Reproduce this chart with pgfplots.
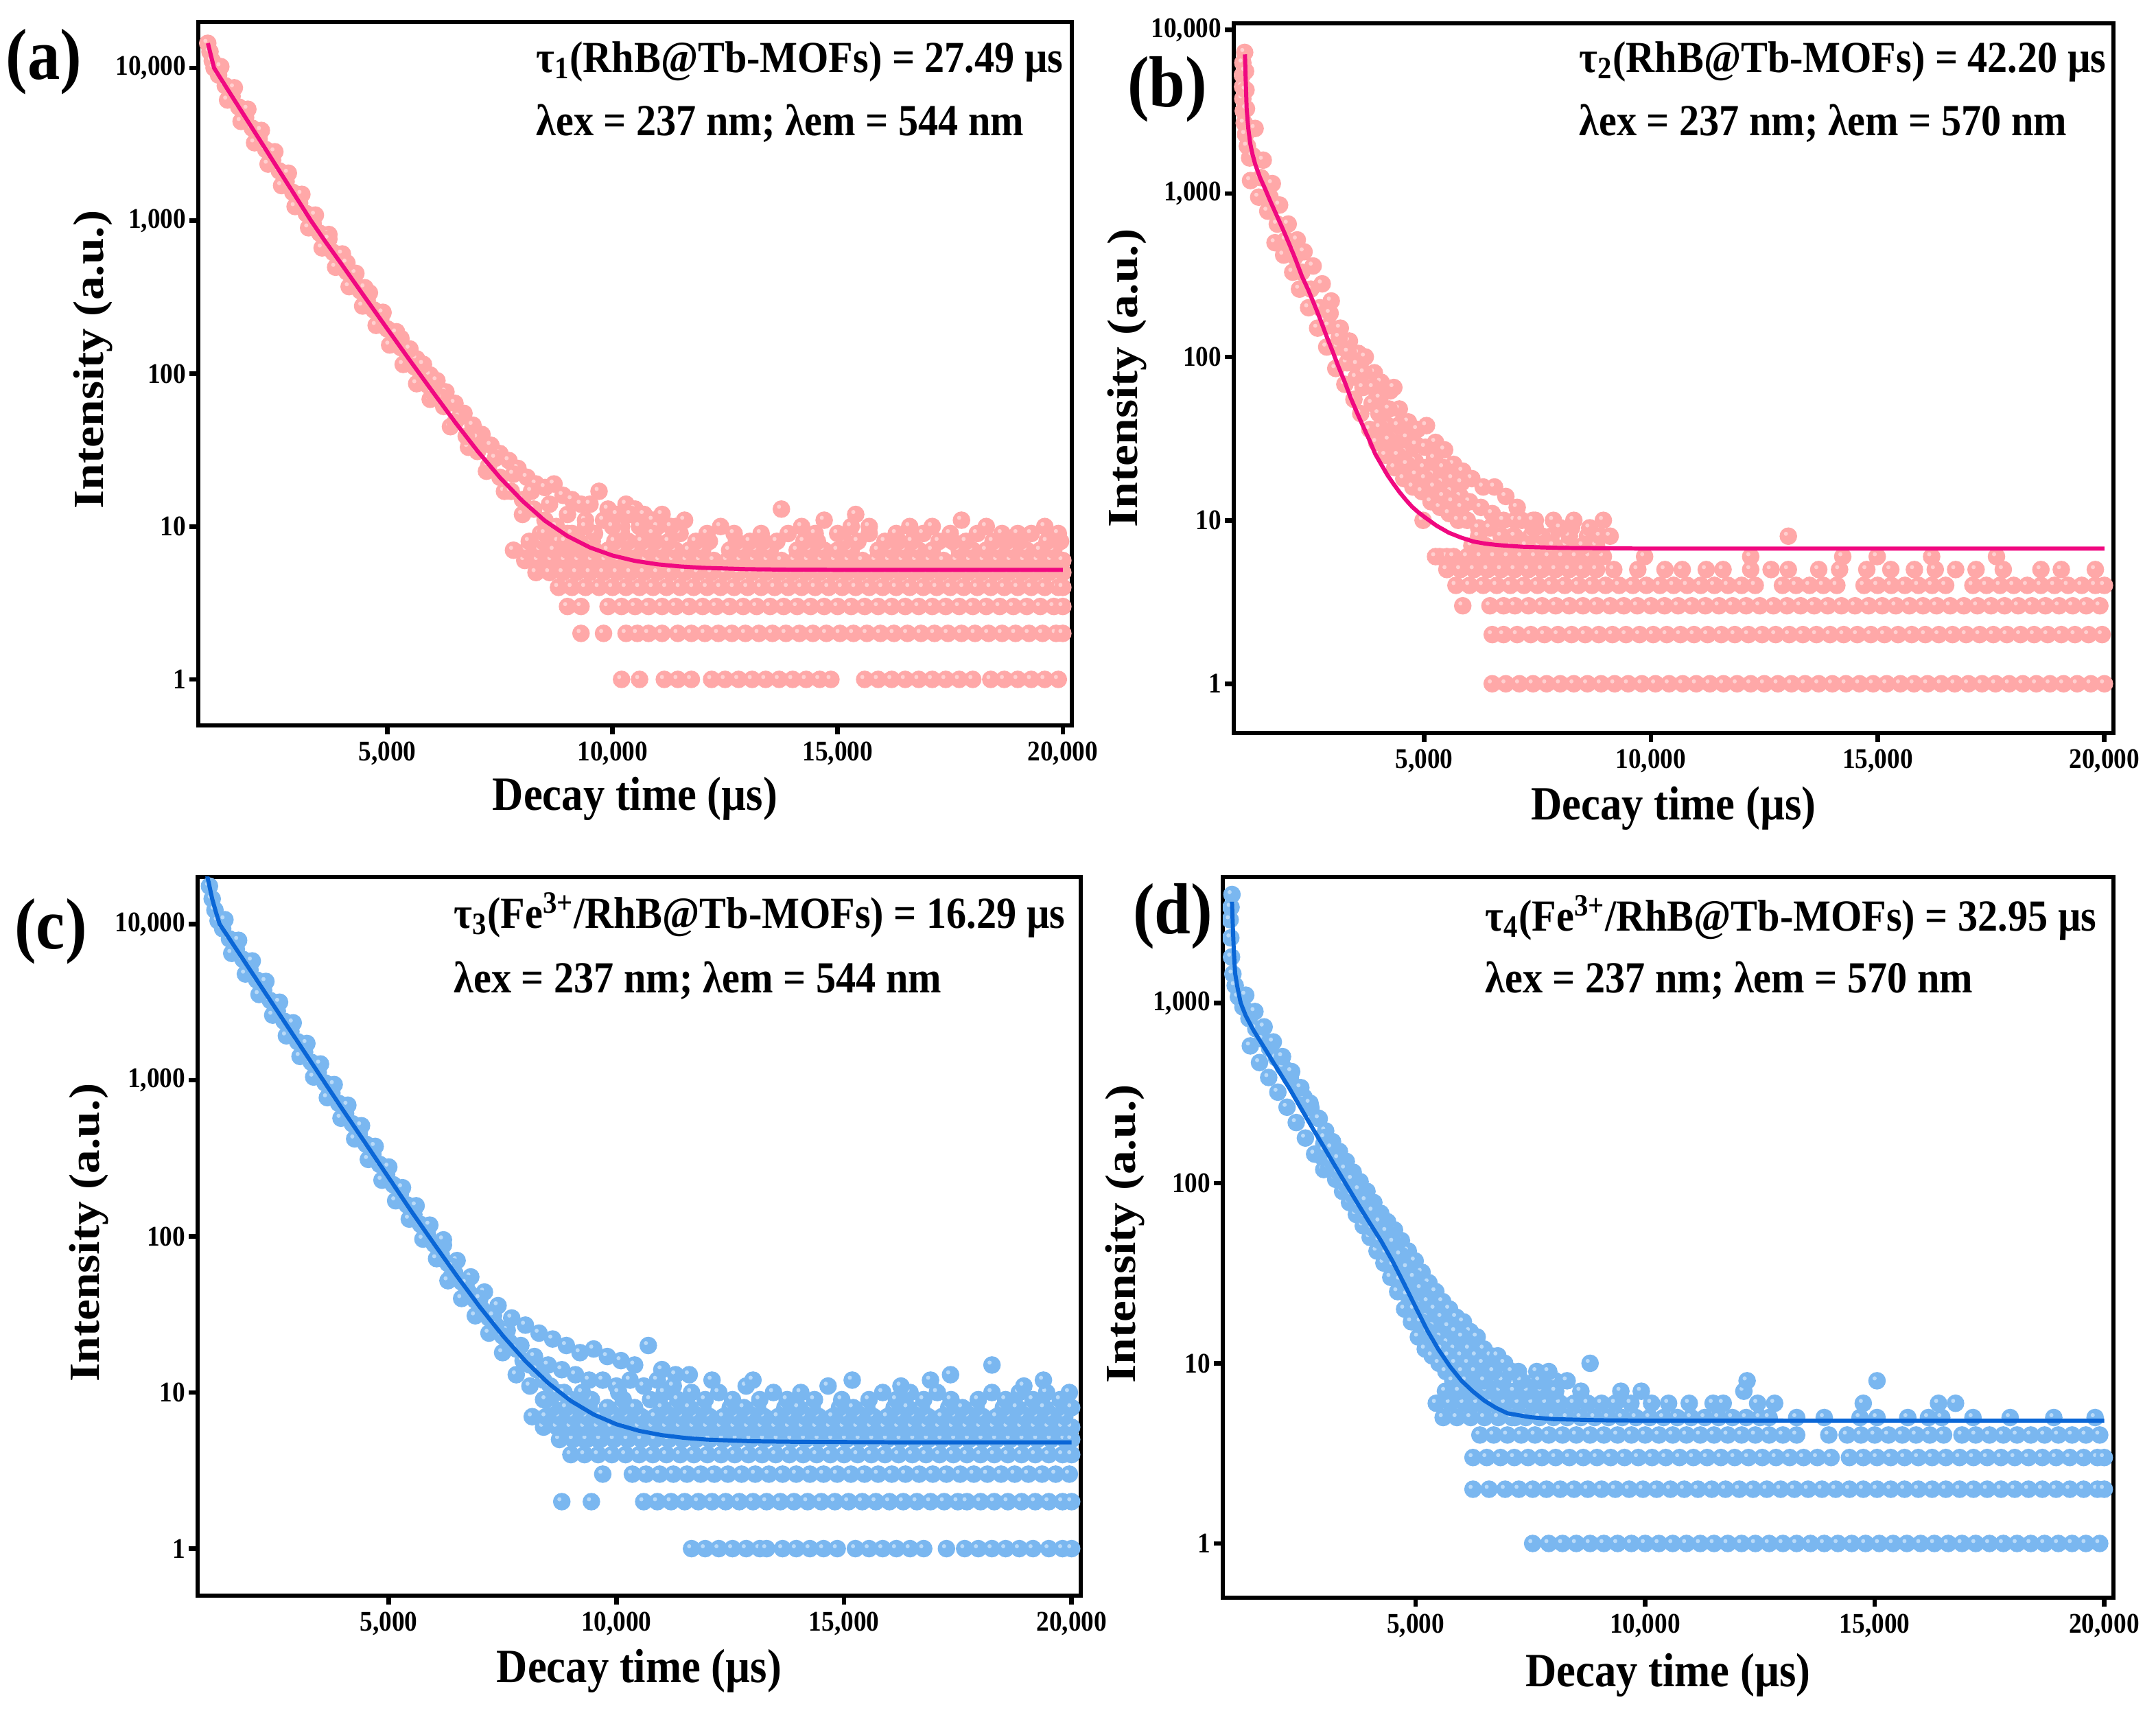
\documentclass[border=0pt]{standalone}
\usepackage{fontspec}
\setmainfont{Liberation Serif}
\usepackage{graphicx}
\usepackage{pgfplots}
\pgfplotsset{compat=1.18}
\definecolor{pinkdot}{RGB}{255,168,168}
\definecolor{pinkhl}{RGB}{255,208,208}
\definecolor{pinkline}{RGB}{240,8,128}
\definecolor{bluedot}{RGB}{122,183,240}
\definecolor{bluehl}{RGB}{185,218,248}
\definecolor{blueline}{RGB}{10,102,214}
\pgfdeclareplotmark{beadP}{%
  \pgfsetfillcolor{pinkdot}\pgfpathcircle{\pgfpointorigin}{0.128cm}\pgfusepathqfill
  \pgfsetfillcolor{pinkhl}\pgfpathcircle{\pgfpoint{-0.035cm}{0.035cm}}{0.03cm}\pgfusepathqfill}
\pgfdeclareplotmark{beadB}{%
  \pgfsetfillcolor{bluedot}\pgfpathcircle{\pgfpointorigin}{0.128cm}\pgfusepathqfill
  \pgfsetfillcolor{bluehl}\pgfpathcircle{\pgfpoint{-0.035cm}{0.035cm}}{0.03cm}\pgfusepathqfill}
\newcommand{\sq}[1]{\scalebox{0.9}[1]{#1}}
\newcommand{\sqv}[1]{\scalebox{1}[0.9]{#1}}
\pgfplotsset{
  myax/.style={
    scale only axis,
    scaled x ticks=false,
    clip marker paths=true,
    xtick={5000,10000,15000,20000},
    xticklabels={\sq{5,000},\sq{10,000},\sq{15,000},\sq{20,000}},
    ytick={1,10,100,1000,10000},
    yticklabels={\sq{1},\sq{10},\sq{100},\sq{1,000},\sq{10,000}},
    yminorticks=false, xminorticks=false,
    tick align=outside, xtick pos=left, ytick pos=left,
    major tick length=0.13cm,
    tick style={black, line width=1.9pt},
    axis line style={line width=1.9pt},
    tick label style={font=\fontsize{11.8}{14}\selectfont\bfseries, inner sep=0pt},
    yticklabel style={xshift=-0.04cm},
    xticklabel style={yshift=-0.10cm},
    xlabel={\sq{Decay time (µs)}},
    ylabel={\sqv{Intensity (a.u.)}},
    label style={font=\fontsize{19.8}{22}\selectfont\bfseries, inner sep=0pt},
  },
  dotsP/.style={only marks, mark=beadP},
  dotsB/.style={only marks, mark=beadB},
  fitP/.style={draw=pinkline, line width=1.7pt, mark=none, line join=round},
  fitB/.style={draw=blueline, line width=1.7pt, mark=none, line join=round},
}
\begin{document}
\begin{tikzpicture}
\path[use as bounding box] (0,0) rectangle (31.42,24.96);
% ---------------- (a) ----------------
\begin{axis}[ymode=log, xmin=800, xmax=20200, ymin=0.5, ymax=20000, myax,
  at={(2.89cm,14.39cm)}, anchor=south west, width=12.73cm, height=10.25cm,
  xlabel style={at={(axis description cs:0.5,-0.1044)}, anchor=center},
  ylabel style={at={(axis description cs:-0.1202,0.52)}, anchor=center}]
\addplot[dotsP] coordinates {
(1010,14500)(1060,12760)(1110,11140)(1150,10000)(1250,8985)(1400,7650)(1550,6520)(1700,5550)(1850,4730)(2000,4030)(2150,3430)(2300,2920)(2450,2490)(2600,2120)(2750,1805)(2900,1535)(3050,1306)(3200,1114)(3350,958)(3500,828)(3650,716)(3800,620)(3950,536)(4100,464)(4250,401)(4400,348)(4550,301)(4700,261)(4850,226)(5000,196)(5150,170)(5300,148)(5450,128)(5600,111)(5750,97)(5900,84)
(1300,10200)(1600,7420)(1900,5370)(2200,3900)(2500,2830)(2800,2050)(3100,1490)(3400,1090)(3700,814)(4000,607)(4300,453)(4600,338)(4900,252)(5200,188)(5500,141)(5800,105)
(1450,6170)(1750,4470)(2050,3240)(2350,2350)(2650,1700)(2950,1240)(3250,900)(3550,665)(3850,497)(4150,371)(4450,277)(4750,207)(5050,154)(5350,115)(5650,86)(5950,68)
(3700,760)(4100,530)(4500,365)(4900,250)(5300,170)(5650,125)(5950,98)
(5200,185)(5500,145)(5800,115)(6100,90)(6300,76)(6500,64)(6700,55)(6900,46)(7100,40)(7300,34)(7500,30)(7700,27)(7900,24)(8100,21)(8300,19)(8500,18)(8700,19)(8900,16)(9100,15)(9300,14)(9500,14)(9700,17)(9900,13)(10100,12)(10300,14)(10500,13)(10700,12)(10900,11)(11100,12)
(6200,70)(6600,52)(7000,38)(7400,28)(7800,22)(8200,17)(8600,14)(9000,12)(9400,11)(9800,11)(10200,10)(10600,10)(11000,10)(11400,10)
(6400,45)(6800,33)(7200,23)(7600,17)(8000,12)(8400,9)(8800,8)(9200,7)(9600,6)(10000,6)
(6000,76)(6250,61)(6500,48)(6750,39)(7000,31)(7250,25)(7500,21)(7750,17)(8000,15)(8250,13)(8500,11)(8750,10)(9000,9)
(10200,1)(10600,1)(11150,1)(11450,1)(11750,1)(12200,1)(12500,1)(12800,1)(13100,1)(13400,1)(13700,1)(14000,1)(14300,1)(14600,1)(14850,1)(15600,1)(15900,1)(16200,1)(16500,1)(16800,1)(17100,1)(17400,1)(17700,1)(18000,1)(18400,1)(18700,1)(19000,1)(19300,1)(19600,1)(19900,1)
(9300,2)(9800,2)(10300,2)(10550,2)(10800,2)(11100,2)(11450,2)(11750,2)(12050,2)(12350,2)(12650,2)(12950,2)(13250,2)(13550,2)(13850,2)(14150,2)(14450,2)(14750,2)(15050,2)(15350,2)(15650,2)(15950,2)(16250,2)(16550,2)(16850,2)(17150,2)(17450,2)(17750,2)(18050,2)(18350,2)(18650,2)(18950,2)(19250,2)(19550,2)(19850,2)(20000,2)
(9000,3)(9300,3)(9900,3)(10200,3)(10500,3)(10800,3)(11100,3)(11400,3)(11700,3)(12000,3)(12300,3)(12600,3)(12900,3)(13200,3)(13500,3)(13800,3)(14100,3)(14400,3)(14700,3)(15000,3)(15300,3)(15600,3)(15900,3)(16200,3)(16500,3)(16800,3)(17100,3)(17400,3)(17700,3)(18000,3)(18300,3)(18600,3)(18900,3)(19200,3)(19500,3)(19800,3)(20000,3)
(8800,4)(9100,4)(9400,4)(9700,4)(10000,4)(10300,4)(10600,4)(10900,4)(11200,4)(11500,4)(11800,4)(12100,4)(12400,4)(12700,4)(13000,4)(13300,4)(13600,4)(13900,4)(14200,4)(14500,4)(14800,4)(15100,4)(15400,4)(15700,4)(16000,4)(16300,4)(16600,4)(16900,4)(17200,4)(17500,4)(17800,4)(18100,4)(18400,4)(18700,4)(19000,4)(19300,4)(19600,4)(19900,4)(20000,4)
(8300,5)(8600,5)(8900,5)(9200,5)(9500,5)(9800,5)(10100,5)(10400,5)(10700,5)(11000,5)(11300,5)(11600,5)(11900,5)(12200,5)(12500,5)(12800,5)(13100,5)(13400,5)(13700,5)(14000,5)(14300,5)(14600,5)(14900,5)(15200,5)(15500,5)(15800,5)(16100,5)(16400,5)(16700,5)(17000,5)(17300,5)(17600,5)(17900,5)(18200,5)(18500,5)(18800,5)(19100,5)(19400,5)(19700,5)(20000,5)
(8050,6)(8350,6)(8650,6)(8950,6)(9250,6)(9550,6)(9850,6)(10150,6)(10450,6)(10750,6)(11050,6)(11350,6)(11650,6)(11950,6)(12250,6)(12550,6)(12850,6)(13150,6)(13450,6)(13750,6)(14050,6)(14350,6)(14650,6)(14950,6)(15250,6)(15550,6)(15850,6)(16150,6)(16450,6)(16750,6)(17050,6)(17350,6)(17650,6)(17950,6)(18250,6)(18550,6)(18850,6)(19150,6)(19450,6)(19750,6)(20000,6)
(7800,7)(8100,7)(8400,7)(8700,7)(9000,7)(9300,7)(9600,7)(9900,7)(10200,7)(10500,7)(10800,7)(11100,7)(11400,7)(11700,7)(12000,7)(12600,7)(12900,7)(13200,7)(13500,7)(14100,7)(14400,7)(14700,7)(15000,7)(15300,7)(15900,7)(16200,7)(16500,7)(16800,7)(17100,7)(17700,7)(18000,7)(18300,7)(18600,7)(18900,7)(19200,7)(19500,7)(19800,7)
(8150,8)(8450,8)(8950,8)(9250,8)(9550,8)(10050,8)(10350,8)(10650,8)(10950,8)(11250,8)(11850,8)(12150,8)(12750,8)(13050,8)(13350,8)(13650,8)(14250,8)(14550,8)(15150,8)(15450,8)(16050,8)(16350,8)(16650,8)(17250,8)(17550,8)(17850,8)(18450,8)(18750,8)(19050,8)(19650,8)(19950,8)
(8500,9)(9100,9)(9600,9)(10200,9)(10900,9)(11500,9)(12100,9)(12700,9)(13300,9)(13900,9)(14500,9)(15000,9)(15700,9)(16300,9)(16900,9)(17500,9)(18100,9)(18650,9)(19000,9)(19300,9)(19900,9)
(9400,10)(10000,10)(10600,10)(11300,10)(12400,10)(14200,10)(15300,10)(15700,10)(16600,10)(17100,10)(18300,10)(19600,10)
(11600,11)(14700,11)(17750,11)(10400,12)(15400,12)(13750,13)
};
\addplot[fitP] coordinates {
(1013,14526)(1060,12760)(1110,11140)(1150,10005)(1300,8511)(1500,6871)(1750,5260)(2000,4027)(2250,3086)(2500,2360)(2750,1808)(3000,1385)(3300,1005)(3600,747)(4000,511)(4500,316)(5000,196)(5500,122)(6000,76.5)(6500,48.3)(7000,31.2)(7500,20.9)(8000,14.7)(8500,10.9)(9000,8.66)(9500,7.29)(10000,6.46)(10500,5.96)(11000,5.66)(11500,5.48)(12000,5.37)(13000,5.26)(14000,5.22)(16000,5.2)(20000,5.2)
};
\end{axis}
% ---------------- (b) ----------------
\begin{axis}[ymode=log, xmin=800, xmax=20200, ymin=0.5, ymax=11000, myax,
  at={(17.98cm,14.28cm)}, anchor=south west, width=12.82cm, height=10.34cm,
  xlabel style={at={(axis description cs:0.5,-0.1064)}, anchor=center},
  ylabel style={at={(axis description cs:-0.1209,0.5)}, anchor=center}]
\addplot[dotsP] coordinates {
(1040,7300)(1000,6300)(990,5300)(995,4500)(1000,3800)(1010,3200)(1030,2700)(1060,2300)(1100,1950)(1150,1650)(1060,5600)(1070,4300)(1080,3300)
(1170,1200)(1220,1700)(1270,2500)(1350,950)(1400,1250)(1450,1600)(1550,780)(1600,950)(1650,1150)(1710,500)(1760,650)(1810,850)
(1900,420)(1950,520)(2000,650)(2100,330)(2150,410)(2200,520)(2250,260)(2300,330)(2350,440)(2450,200)(2500,260)(2550,360)
(2650,150)(2700,200)(2750,280)(2850,115)(2900,155)(2950,220)(3050,85)(3100,115)(3150,150)(3250,68)(3300,92)(3350,125)
(3450,55)(3500,75)(3550,105)(3600,45)(3650,65)(3700,100)(3800,36)(3850,52)(3900,80)(3950,30)(4000,45)(4050,70)
(4150,25)(4200,38)(4250,62)(4350,21)(4400,30)(4450,48)(4330,65)(4550,18)(4600,26)(4650,40)(4750,16)(4800,23)(4850,36)
(4950,15)(5000,21)(5050,38)(5150,13)(5200,19)(5250,30)(5350,12)(5400,17)(5450,27)(5550,11)(5600,15)(5650,22)
(5750,10)(5800,14)(5850,20)(5950,10)(6000,13)(6050,18)(6200,9)(6250,12)(6300,16)(6450,9)(6500,11)(6550,16)
(6700,8)(6750,10)(6800,14)(6950,8)(7000,10)(7050,12)(7350,8)(7400,9)(7450,10)(7750,7)(7800,8)(7850,10)
(8150,7)(8200,8)(8250,9)(8550,7)(8600,8)(8650,9)(8950,10)(4975,10)
(2925,185)(3125,132)(3325,107)(3525,90)(3675,80)(3875,65)(4025,56)(4225,48)(4425,38)(4625,32)(4825,29)(5025,28)(5225,24)(5425,21)(5625,18)(5825,17)
(4025,37)(4225,31)(4425,25)(4625,22)(4825,19)(5025,18)(5225,16)(5425,14)(5625,13)(5825,12)
(5340,6)(5500,6)
(6500,1)(6800,1)(7100,1)(7400,1)(7700,1)(8000,1)(8300,1)(8600,1)(8900,1)(9200,1)(9500,1)(9800,1)(10100,1)(10400,1)(10700,1)(11000,1)(11300,1)(11600,1)(11900,1)(12200,1)(12500,1)(12800,1)(13100,1)(13400,1)(13700,1)(14000,1)(14300,1)(14600,1)(14900,1)(15200,1)(15500,1)(15800,1)(16100,1)(16400,1)(16700,1)(17000,1)(17300,1)(17600,1)(17900,1)(18200,1)(18500,1)(18800,1)(19100,1)(19400,1)(19700,1)(20000,1)
(6500,2)(6750,2)(7050,2)(7350,2)(7650,2)(7950,2)(8250,2)(8550,2)(8850,2)(9150,2)(9450,2)(9750,2)(10050,2)(10350,2)(10650,2)(10950,2)(11250,2)(11550,2)(11850,2)(12150,2)(12450,2)(12750,2)(13050,2)(13350,2)(13650,2)(13950,2)(14250,2)(14550,2)(14850,2)(15150,2)(15450,2)(15750,2)(16050,2)(16350,2)(16650,2)(16950,2)(17250,2)(17550,2)(17850,2)(18150,2)(18450,2)(18750,2)(19050,2)(19350,2)(19650,2)(19950,2)
(5850,3)(6450,3)(6750,3)(7000,3)(7300,3)(7600,3)(7900,3)(8200,3)(8500,3)(8800,3)(9100,3)(9400,3)(9700,3)(10000,3)(10300,3)(10600,3)(10900,3)(11200,3)(11500,3)(11800,3)(12100,3)(12400,3)(12700,3)(13000,3)(13300,3)(13600,3)(13900,3)(14200,3)(14500,3)(14800,3)(15100,3)(15400,3)(15700,3)(16000,3)(16300,3)(16600,3)(16900,3)(17200,3)(17500,3)(17800,3)(18100,3)(18400,3)(18700,3)(19000,3)(19300,3)(19600,3)(19900,3)
(5700,4)(6000,4)(6300,4)(6600,4)(6900,4)(7200,4)(7500,4)(7800,4)(8100,4)(8400,4)(8700,4)(9000,4)(9300,4)(9600,4)(9900,4)(10200,4)(10500,4)(10800,4)(11100,4)(11400,4)(11700,4)(12000,4)(12300,4)(12900,4)(13200,4)(13500,4)(13800,4)(14100,4)(14700,4)(15000,4)(15300,4)(15600,4)(15900,4)(16200,4)(16500,4)(17100,4)(17400,4)(17700,4)(18000,4)(18300,4)(18600,4)(18900,4)(19200,4)(19500,4)(19800,4)(20000,4)
(5500,5)(5800,5)(6100,5)(6400,5)(6700,5)(7000,5)(7300,5)(7600,5)(7900,5)(8200,5)(8500,5)(8800,5)(9180,5)(9710,5)(10310,5)(10690,5)(11220,5)(11590,5)(12200,5)(12650,5)(13030,5)(13700,5)(14160,5)(14760,5)(15290,5)(15810,5)(16270,5)(16720,5)(17170,5)(17770,5)(18600,5)(19050,5)(19800,5)
(5250,6)(5650,6)(5950,6)(6250,6)(6550,6)(6850,6)(7150,6)(7450,6)(7750,6)(8050,6)(8350,6)(8650,6)(8950,6)(9860,6)(12200,6)(14230,6)(14990,6)(16190,6)(17620,6)
(6050,7)(6350,7)(6650,7)(6950,7)(7250,7)(7550,7)(7850,7)(8150,7)(8500,7)(8800,7)
(6200,8)(6700,8)(7000,8)(7600,8)(8200,8)(8880,8)(9100,8)(13030,8)(6450,9)(7450,9)(8000,9)(7150,10)(7400,10)(8300,10)
};
\addplot[fitP] coordinates {
(1047,7100)(1060,5300)(1072,4200)(1084,3310)(1120,2500)(1163,2025)(1210,1750)(1274,1507)(1380,1250)(1490,1069)(1620,880)(1760,721)(1900,590)(2030,486)(2170,390)(2300,313)(2440,258)(2571,211)(2700,172)(2841,135)(2980,108)(3111,86.9)(3250,70)(3382,55.8)(3520,45.5)(3651,37.7)(3790,31)(3922,25.4)(4060,21.8)(4190,18.9)(4330,16.6)(4462,14.8)(4600,13.3)(4733,12.1)(4870,11.2)(5002,10.5)(5273,9.27)(5543,8.4)(5810,7.85)(6082,7.42)(6350,7.2)(6624,7.06)(7164,6.89)(8000,6.78)(9700,6.72)(20000,6.72)
};
\end{axis}
% ---------------- (c) ----------------
\begin{axis}[ymode=log, xmin=800, xmax=20200, ymin=0.5, ymax=20000, myax,
  at={(2.88cm,1.71cm)}, anchor=south west, width=12.87cm, height=10.47cm,
  xlabel style={at={(axis description cs:0.5,-0.105)}, anchor=center},
  ylabel style={at={(axis description cs:-0.1228,0.505)}, anchor=center}]
\addplot[dotsB] coordinates {
(1000,21000)(1060,17500)(1120,14500)(1180,12300)(1250,10500)(1350,9345)(1500,8035)(1650,6900)(1800,5930)(1950,5095)(2100,4378)(2250,3762)(2400,3233)(2550,2778)(2700,2387)(2850,2051)(3000,1762)(3150,1514)(3300,1301)(3450,1118)(3600,961)(3750,827)(3900,711)(4050,612)(4200,526)(4350,452)(4500,389)(4650,335)(4800,289)(4950,249)(5100,214)(5250,185)(5400,159)(5550,138)(5700,119)(5850,103)(6000,89)(6150,77)(6300,67)(6450,58)(6600,51)(6750,44)(6900,39)(7050,34)(7200,30)
(1400,10670)(1700,7870)(2000,5810)(2300,4290)(2600,3160)(2900,2330)(3200,1720)(3500,1270)(3800,938)(4100,692)(4400,511)(4700,377)(5000,278)(5300,205)(5600,157)(5900,118)(6200,88)
(1550,6490)(1850,4790)(2150,3540)(2450,2610)(2750,1925)(3050,1420)(3350,1048)(3650,773)(3950,571)(4250,421)(4550,311)(4850,229)(5150,169)(5450,129)(5750,96)(6050,72)(6350,54)
(6200,95)(6500,70)(6800,55)(7100,44)(7400,36)(7700,30)(8000,27)(8300,24)(8600,22)(8900,20)(9200,18)(9500,19)(9800,17)(10100,16)(10400,15)(10700,20)(11000,14)(11300,13)(11600,13)
(6400,64)(6700,50)(7000,40)(7300,31)(7600,25)(7900,20)(8200,17)(8500,15)(8800,14)(9100,13)(9400,12)(9700,12)(10000,11)(10300,12)(10600,11)(10900,12)
(6300,52)(6600,40)(6900,31)(7200,24)(7500,18)(7800,13)(8100,11)(8400,9)(8700,7)(9000,6)(9300,5)(9600,5)
(7350,27)(7500,23)(7650,21)(7800,19)(7950,16)(8100,15)(8250,14)(8400,12)(8550,11)(8700,10)(8850,10)(9000,9)(9200,8)(9400,8)(9600,7)
(11650,1)(11950,1)(12250,1)(12550,1)(12850,1)(13150,1)(13300,1)(13650,1)(13950,1)(14250,1)(14550,1)(14850,1)(15250,1)(15550,1)(15850,1)(16150,1)(16450,1)(16750,1)(17250,1)(17650,1)(17950,1)(18250,1)(18550,1)(18850,1)(19150,1)(19500,1)(19800,1)(20000,1)
(8800,2)(9450,2)(10600,2)(10900,2)(11200,2)(11500,2)(11800,2)(12100,2)(12400,2)(12700,2)(13000,2)(13300,2)(13600,2)(13900,2)(14200,2)(14500,2)(14800,2)(15100,2)(15400,2)(15700,2)(16000,2)(16300,2)(16600,2)(16900,2)(17200,2)(17500,2)(17700,2)(18000,2)(18300,2)(18600,2)(18900,2)(19200,2)(19500,2)(19800,2)(20000,2)
(9700,3)(10350,3)(10650,3)(10950,3)(11250,3)(11550,3)(11850,3)(12150,3)(12450,3)(12750,3)(13050,3)(13350,3)(13650,3)(13950,3)(14250,3)(14550,3)(14850,3)(15150,3)(15450,3)(15750,3)(16050,3)(16350,3)(16650,3)(16950,3)(17250,3)(17550,3)(17850,3)(18150,3)(18450,3)(18750,3)(19050,3)(19350,3)(19650,3)(19950,3)
(9000,4)(9300,4)(9600,4)(9900,4)(10200,4)(10500,4)(10800,4)(11100,4)(11400,4)(11700,4)(12000,4)(12300,4)(12600,4)(12900,4)(13200,4)(13500,4)(13800,4)(14100,4)(14400,4)(14700,4)(15000,4)(15300,4)(15600,4)(15900,4)(16200,4)(16500,4)(16800,4)(17100,4)(17400,4)(17700,4)(18000,4)(18300,4)(18600,4)(18900,4)(19200,4)(19500,4)(19800,4)(20000,4)
(8750,5)(9050,5)(9350,5)(9650,5)(9950,5)(10250,5)(10550,5)(10850,5)(11150,5)(11450,5)(11750,5)(12050,5)(12350,5)(12650,5)(12950,5)(13250,5)(13550,5)(13850,5)(14150,5)(14450,5)(14750,5)(15050,5)(15350,5)(15650,5)(15950,5)(16250,5)(16550,5)(16850,5)(17150,5)(17450,5)(17750,5)(18050,5)(18350,5)(18650,5)(18950,5)(19250,5)(19550,5)(19850,5)(20000,5)
(8400,6)(8700,6)(9000,6)(9300,6)(9600,6)(9900,6)(10200,6)(10500,6)(10800,6)(11100,6)(11400,6)(11700,6)(12000,6)(12300,6)(12600,6)(12900,6)(13200,6)(13500,6)(13800,6)(14100,6)(14400,6)(14700,6)(15000,6)(15300,6)(15600,6)(15900,6)(16200,6)(16500,6)(16800,6)(17100,6)(17400,6)(17700,6)(18000,6)(18300,6)(18600,6)(18900,6)(19200,6)(19500,6)(19800,6)(20000,6)
(8150,7)(8450,7)(8750,7)(9050,7)(9350,7)(9650,7)(9950,7)(10250,7)(10550,7)(10850,7)(11150,7)(11450,7)(11750,7)(12050,7)(12350,7)(12650,7)(12950,7)(13250,7)(13550,7)(13850,7)(14150,7)(14450,7)(14750,7)(15050,7)(15350,7)(15650,7)(15950,7)(16250,7)(16550,7)(16850,7)(17150,7)(17450,7)(17750,7)(18050,7)(18350,7)(18650,7)(18950,7)(19250,7)(19550,7)(19850,7)
(8600,8)(8900,8)(9200,8)(9800,8)(10100,8)(10400,8)(11000,8)(11300,8)(11600,8)(11900,8)(12500,8)(12800,8)(13100,8)(13700,8)(14000,8)(14300,8)(14900,8)(15200,8)(15500,8)(16100,8)(16400,8)(16700,8)(17300,8)(17600,8)(17900,8)(18500,8)(18800,8)(19100,8)(19400,8)(19700,8)(20000,8)
(8450,9)(9450,9)(10150,9)(10750,9)(11350,9)(11950,9)(12550,9)(13150,9)(13750,9)(14350,9)(14950,9)(15550,9)(16150,9)(16750,9)(17350,9)(17950,9)(18550,9)(19150,9)(19750,9)
(9250,10)(10050,10)(11050,10)(11650,10)(12250,10)(13450,10)(14050,10)(15850,10)(16450,10)(17050,10)(18250,10)(18850,10)(19450,10)(19950,10)
(11250,11)(12850,11)(14650,11)(16250,11)(18950,11)(12100,12)(13000,12)(15180,12)(16900,12)(17340,13)(19380,12)(11000,14)(18250,15)
};
\addplot[fitB] coordinates {
(1000,21000)(1060,17500)(1120,14500)(1200,12000)(1283,10000)(1500,8040)(2000,4850)(2500,2920)(3000,1760)(3500,1060)(4000,640)(4500,390)(5000,237)(5500,144)(6000,89)(6500,55.5)(7000,35.3)(7500,23.2)(8000,15.9)(8500,11.5)(9000,8.83)(9500,7.23)(10000,6.26)(10500,5.68)(11000,5.33)(11500,5.12)(12000,4.99)(13000,4.87)(14000,4.83)(16000,4.8)(20000,4.8)
};
\end{axis}
% ---------------- (d) ----------------
\begin{axis}[ymode=log, xmin=800, xmax=20200, ymin=0.5, ymax=5000, myax,
  at={(17.82cm,1.68cm)}, anchor=south west, width=12.98cm, height=10.50cm,
  xlabel style={at={(axis description cs:0.5,-0.1076)}, anchor=center},
  ylabel style={at={(axis description cs:-0.110,0.505)}, anchor=center}]
\addplot[dotsB] coordinates {
(1000,4000)(980,3400)(960,2900)(975,2300)(990,1800)(1020,1450)(1070,1250)(1140,1080)(1240,950)(1370,820)(1520,720)(1670,630)(1820,560)(1970,495)(2120,440)(2270,385)(2420,340)(2570,300)(2720,262)(2870,230)
(1300,1105)(1500,897)(1700,737)(1900,608)(2100,504)(2300,416)(2500,339)(2700,278)(2900,228)
(1400,578)(1600,467)(1800,386)(2000,320)(2200,264)(2400,217)(2600,178)(2800,145)(3000,119)
(2960,140)(3000,165)(3040,195)(3110,122)(3150,145)(3190,170)(3260,105)(3300,125)(3340,150)(3410,90)(3450,110)(3490,132)
(3560,78)(3600,95)(3640,115)(3710,67)(3750,83)(3790,102)(3860,58)(3900,72)(3940,90)(4010,50)(4050,62)(4090,78)
(4160,42)(4200,54)(4240,68)(4310,36)(4350,47)(4390,61)(4460,30)(4500,40)(4540,55)(4610,25)(4650,34)(4690,48)
(4760,20)(4800,28)(4840,42)(4910,17)(4950,24)(4990,37)(5060,14)(5100,21)(5140,32)(5210,12)(5250,18)(5290,28)
(5360,11)(5400,16)(5440,25)(5510,10)(5550,14)(5590,22)(5660,9)(5700,13)(5740,20)(5810,8)(5850,12)(5890,18)
(5960,7)(6000,11)(6040,17)(6110,7)(6150,10)(6190,15)(6260,6)(6300,9)(6340,14)(6410,6)(6450,8)(6490,12)
(6560,6)(6600,8)(6640,11)(6710,6)(6750,8)(6790,11)(6860,6)(6900,7)(6940,10)(7160,5)(7200,7)(7240,9)
(7560,6)(7600,8)(7640,9)(7960,6)(8000,7)(8040,8)
(3020,152)(3020,179)(3170,133)(3170,157)(3320,115)(3320,137)(3470,99)(3470,120)(3620,86)(3620,105)(3770,75)(3770,92)(3920,65)(3920,80)(4070,56)(4070,70)
(4220,48)(4220,61)(4370,41)(4370,54)(4520,35)(4520,47)(4670,29)(4670,40)(4820,24)(4820,34)(4970,20)(4970,30)(5120,17)(5120,26)(5270,15)(5270,22)
(5420,13)(5420,20)(5570,12)(5570,18)(5720,11)(5720,16)(5870,10)(5870,15)(6020,9)(6020,14)(6170,8)(6170,12)(6320,7)(6320,11)(6470,7)(6470,10)
(7550,1)(7900,1)(8200,1)(8500,1)(8800,1)(9100,1)(9400,1)(9700,1)(10000,1)(10300,1)(10600,1)(10900,1)(11200,1)(11500,1)(11800,1)(12100,1)(12400,1)(12700,1)(13000,1)(13300,1)(13600,1)(13900,1)(14200,1)(14500,1)(14800,1)(15100,1)(15400,1)(15700,1)(16000,1)(16300,1)(16600,1)(16900,1)(17200,1)(17500,1)(17800,1)(18100,1)(18400,1)(18700,1)(19000,1)(19300,1)(19600,1)(19900,1)
(6250,2)(6600,2)(6950,2)(7250,2)(7550,2)(7850,2)(8150,2)(8450,2)(8750,2)(9050,2)(9350,2)(9650,2)(9950,2)(10250,2)(10550,2)(10850,2)(11150,2)(11450,2)(11750,2)(12050,2)(12350,2)(12650,2)(12950,2)(13250,2)(13550,2)(13850,2)(14150,2)(14450,2)(14750,2)(15050,2)(15350,2)(15650,2)(15950,2)(16250,2)(16550,2)(16850,2)(17150,2)(17450,2)(17750,2)(18050,2)(18350,2)(18650,2)(18950,2)(19250,2)(19550,2)(19850,2)(20000,2)
(6250,3)(6550,3)(6850,3)(7150,3)(7450,3)(7750,3)(8050,3)(8350,3)(8650,3)(8950,3)(9250,3)(9550,3)(9850,3)(10150,3)(10450,3)(10750,3)(11050,3)(11350,3)(11650,3)(11950,3)(12250,3)(12550,3)(12850,3)(13150,3)(13450,3)(13750,3)(14050,3)(14450,3)(14750,3)(15050,3)(15350,3)(15650,3)(15950,3)(16250,3)(16550,3)(16850,3)(17150,3)(17450,3)(17750,3)(18050,3)(18350,3)(18650,3)(18950,3)(19250,3)(19550,3)(19850,3)(20000,3)
(6400,4)(6700,4)(7000,4)(7300,4)(7600,4)(7900,4)(8200,4)(8500,4)(8800,4)(9100,4)(9400,4)(9700,4)(10000,4)(10300,4)(10600,4)(10900,4)(11200,4)(11500,4)(11800,4)(12100,4)(12400,4)(12700,4)(13000,4)(13300,4)(14000,4)(14400,4)(14700,4)(15000,4)(15300,4)(15600,4)(15900,4)(16200,4)(16500,4)(16900,4)(17200,4)(17500,4)(17800,4)(18100,4)(18400,4)(18700,4)(19000,4)(19300,4)(19600,4)(19900,4)
(5600,5)(5900,5)(6200,5)(6500,5)(6800,5)(7100,5)(7400,5)(7700,5)(8000,5)(8300,5)(8600,5)(8900,5)(9200,5)(9500,5)(9800,5)(10100,5)(10400,5)(10700,5)(11000,5)(11300,5)(11600,5)(11900,5)(12200,5)(12500,5)(12700,5)(13300,5)(13900,5)(14680,5)(15050,5)(15720,5)(16170,5)(16460,5)(17140,5)(17950,5)(18900,5)(19800,5)
(5450,6)(5750,6)(6050,6)(6350,6)(6650,6)(6950,6)(7250,6)(7550,6)(7850,6)(8150,6)(8450,6)(8750,6)(9050,6)(9350,6)(9690,6)(10140,6)(10510,6)(10960,6)(11480,6)(11700,6)(12450,6)(12820,6)(14750,6)(16390,6)(16760,6)
(5650,7)(5950,7)(6250,7)(6550,7)(6850,7)(7150,7)(7450,7)(7750,7)(8050,7)(8600,7)(9470,7)(9915,7)(12150,7)
(6100,8)(6500,8)(6900,8)(7300,8)(7700,8)(8300,8)(12220,8)(15050,8)(6700,9)(7100,9)(7900,9)(8800,10)
};
\addplot[fitB] coordinates {
(1000,3650)(1020,2600)(1040,1950)(1069,1460)(1120,1220)(1190,1000)(1300,850)(1471,704)(1600,623)(1750,541)(1900,468)(2000,426)(2248,337)(2500,261)(2750,203)(3000,159)(3250,124)(3500,97.1)(3750,76.2)(4000,60.1)(4250,47.7)(4500,36.8)(4750,27.6)(5000,20.5)(5250,15.3)(5500,11.9)(5750,9.6)(6000,8.0)(6250,6.97)(6500,6.2)(6750,5.66)(7000,5.28)(7500,5.02)(8000,4.9)(9000,4.83)(10000,4.81)(20000,4.8)
};
\end{axis}
% ---------------- texts ----------------
\tikzset{ann/.style={anchor=west, inner sep=0pt, font=\fontsize{18.4}{22}\selectfont\bfseries},
         plab/.style={anchor=center, inner sep=0pt, font=\fontsize{30}{34}\selectfont\bfseries}}
\node[ann] at (7.81,24.06) {\sq{τ\textsubscript{1}(RhB@Tb-MOFs) = 27.49 µs}};
\node[ann] at (7.81,23.16) {\sq{λex = 237 nm; λem = 544 nm}};
\node[ann] at (23.01,24.06) {\sq{τ\textsubscript{2}(RhB@Tb-MOFs) = 42.20 µs}};
\node[ann] at (23.01,23.16) {\sq{λex = 237 nm; λem = 570 nm}};
\node[ann] at (6.61,11.63) {\sq{τ\textsubscript{3}(Fe\textsuperscript{3+}/RhB@Tb-MOFs) = 16.29 µs}};
\node[ann] at (6.61,10.67) {\sq{λex = 237 nm; λem = 544 nm}};
\node[ann] at (21.64,11.59) {\sq{τ\textsubscript{4}(Fe\textsuperscript{3+}/RhB@Tb-MOFs) = 32.95 µs}};
\node[ann] at (21.64,10.67) {\sq{λex = 237 nm; λem = 570 nm}};
\node[plab] at (0.64,24.06) {\sq{(a)}};
\node[plab] at (17.01,23.66) {\sq{(b)}};
\node[plab] at (0.74,11.39) {\sq{(c)}};
\node[plab] at (17.09,11.61) {\sq{(d)}};
\end{tikzpicture}
\end{document}
